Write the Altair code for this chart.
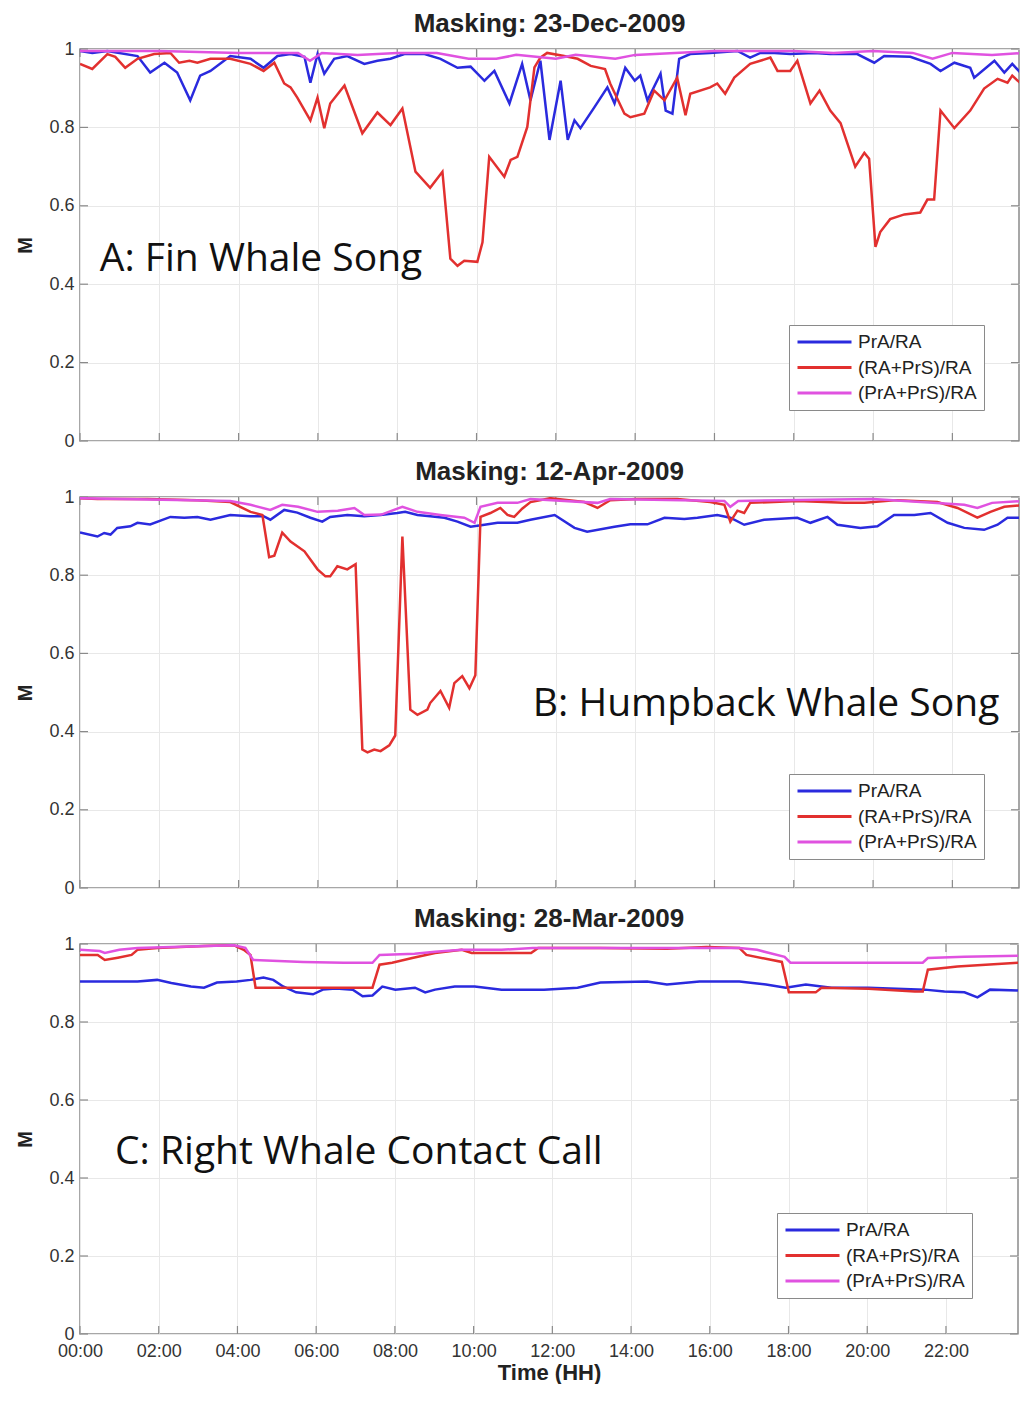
import altair as alt
import pandas as pd

SERIES = ["PrA/RA", "(RA+PrS)/RA", "(PrA+PrS)/RA"]
COLORS = ["#2a2ade", "#e2302f", "#e052e0"]
XTICKS = [0, 2, 4, 6, 8, 10, 12, 14, 16, 18, 20, 22]
YTICKS = [0, 0.2, 0.4, 0.6, 0.8, 1]

TITLES = ["Masking: 23-Dec-2009", "Masking: 12-Apr-2009", "Masking: 28-Mar-2009"]
LABELS = ["A: Fin Whale Song", "B: Humpback Whale Song", "C: Right Whale Contact Call"]
LABEL_HOUR = [0.50, 11.42, 0.89]
LABEL_M = [0.434, 0.44, 0.435]

# ---------------- Panel A: Fin whale song ----------------
A_blue_t = [0, 0.31, 0.69, 1.45, 1.77, 2.13, 2.45, 2.78, 3.03, 3.29, 3.79, 4.30, 4.63, 4.98, 5.31,
            5.66, 5.81, 5.99, 6.16, 6.41, 6.74, 7.17, 7.50, 7.83, 8.18, 8.69, 9.09, 9.52, 9.85, 10.20,
            10.45, 10.83, 11.15, 11.36, 11.61, 11.84, 12.12, 12.30, 12.47, 12.62, 12.97, 13.30, 13.48,
            13.75, 13.99, 14.13, 14.31, 14.64, 14.77, 14.94, 15.11, 15.39, 15.89, 16.58, 16.90, 17.16,
            17.51, 17.91, 18.51, 18.92, 19.60, 20.03, 20.28, 20.94, 21.45, 21.70, 22.05, 22.45, 22.55,
            23.06, 23.31, 23.51, 23.83]
A_blue_v = [0.995, 0.99, 0.995, 0.982, 0.94, 0.965, 0.94, 0.869, 0.932, 0.944, 0.982, 0.975, 0.952,
            0.982, 0.987, 0.98, 0.914, 0.987, 0.937, 0.975, 0.982, 0.962, 0.97, 0.975, 0.987, 0.987,
            0.975, 0.952, 0.955, 0.919, 0.944, 0.861, 0.962, 0.869, 0.97, 0.768, 0.919, 0.768, 0.818,
            0.798, 0.851, 0.902, 0.861, 0.952, 0.919, 0.932, 0.869, 0.937, 0.843, 0.835, 0.975, 0.987,
            0.99, 0.995, 0.978, 0.99, 0.99, 0.987, 0.99, 0.987, 0.987, 0.965, 0.982, 0.98, 0.962, 0.944,
            0.965, 0.952, 0.927, 0.97, 0.94, 0.962, 0.927]
A_red_t = [0, 0.31, 0.69, 0.89, 1.14, 1.45, 1.87, 2.28, 2.50, 2.76, 2.96, 3.29, 3.79, 4.30, 4.63,
           4.90, 5.15, 5.31, 5.48, 5.81, 5.99, 6.16, 6.31, 6.67, 7.12, 7.50, 7.83, 8.13, 8.46, 8.83,
           9.14, 9.34, 9.52, 9.69, 10.02, 10.15, 10.32, 10.70, 10.86, 11.03, 11.28, 11.36, 11.46,
           11.61, 11.78, 12.21, 12.55, 12.88, 13.24, 13.37, 13.73, 13.88, 14.23, 14.48, 14.74, 15.06,
           15.27, 15.39, 15.89, 16.07, 16.27, 16.50, 16.90, 17.41, 17.59, 17.91, 18.09, 18.42, 18.65,
           18.92, 19.18, 19.55, 19.78, 19.90, 20.06, 20.18, 20.43, 20.79, 21.19, 21.37, 21.54, 21.70,
           22.05, 22.45, 22.80, 23.14, 23.39, 23.51, 23.83]
A_red_v = [0.962, 0.949, 0.987, 0.98, 0.952, 0.975, 0.987, 0.99, 0.965, 0.97, 0.965, 0.975, 0.975,
           0.962, 0.944, 0.965, 0.912, 0.902, 0.876, 0.818, 0.876, 0.798, 0.861, 0.907, 0.785, 0.838,
           0.806, 0.848, 0.687, 0.646, 0.687, 0.465, 0.447, 0.46, 0.457, 0.507, 0.725, 0.674, 0.717,
           0.725, 0.801, 0.869, 0.953, 0.978, 0.99, 0.982, 0.975, 0.957, 0.949, 0.912, 0.835, 0.826,
           0.835, 0.894, 0.869, 0.927, 0.831, 0.886, 0.902, 0.912, 0.886, 0.927, 0.962, 0.978, 0.944,
           0.944, 0.97, 0.861, 0.894, 0.843, 0.811, 0.70, 0.735, 0.72, 0.495, 0.533, 0.566, 0.578,
           0.583, 0.616, 0.616, 0.843, 0.798, 0.843, 0.899, 0.924, 0.914, 0.932, 0.902]
A_mag_t = [0, 2, 4, 5.5, 5.8, 6.1, 7, 8, 9, 9.8, 10.5, 11, 11.5, 12, 12.5, 13, 13.5, 14, 15, 16,
           17, 18, 19, 20, 21, 21.5, 22, 23, 23.83]
A_mag_v = [0.995, 0.995, 0.99, 0.99, 0.97, 0.99, 0.985, 0.99, 0.99, 0.975, 0.975, 0.985, 0.98,
           0.975, 0.985, 0.98, 0.975, 0.985, 0.99, 0.995, 0.995, 0.995, 0.99, 0.995, 0.99, 0.975,
           0.99, 0.985, 0.99]

# ---------------- Panel B: Humpback whale song ----------------
B_blue_t = [0, 0.44, 0.61, 0.77, 0.94, 1.27, 1.45, 1.77, 2.28, 2.63, 2.96, 3.29, 3.79, 4.30, 4.63,
            4.80, 5.15, 5.48, 5.81, 6.11, 6.31, 6.74, 7.17, 7.58, 8.00, 8.20, 8.51, 8.83, 9.19, 9.52,
            9.85, 10.20, 10.53, 11.03, 11.36, 11.97, 12.47, 12.79, 13.48, 13.88, 14.31, 14.74, 15.24,
            15.57, 16.07, 16.40, 16.75, 17.25, 18.09, 18.42, 18.85, 19.10, 19.68, 20.11, 20.53, 21.04,
            21.45, 21.88, 22.30, 22.80, 23.14, 23.39, 23.83]
B_blue_v = [0.909, 0.899, 0.908, 0.904, 0.921, 0.925, 0.934, 0.93, 0.949, 0.947, 0.949, 0.942, 0.954,
            0.951, 0.951, 0.942, 0.967, 0.96, 0.947, 0.937, 0.949, 0.954, 0.951, 0.954, 0.959, 0.962,
            0.954, 0.951, 0.947, 0.937, 0.924, 0.929, 0.934, 0.934, 0.942, 0.954, 0.921, 0.911, 0.924,
            0.93, 0.93, 0.947, 0.944, 0.947, 0.954, 0.947, 0.929, 0.942, 0.947, 0.934, 0.949, 0.929,
            0.921, 0.925, 0.954, 0.954, 0.959, 0.934, 0.921, 0.916, 0.929, 0.947, 0.947]
B_red_t = [0, 0.44, 1.70, 2.96, 3.79, 4.30, 4.60, 4.77, 4.90, 5.10, 5.31, 5.66, 5.99, 6.19, 6.31,
           6.49, 6.74, 6.95, 7.12, 7.25, 7.42, 7.58, 7.80, 7.95, 8.13, 8.33, 8.51, 8.76, 8.83, 9.09,
           9.31, 9.44, 9.64, 9.82, 9.97, 10.10, 10.35, 10.60, 10.78, 10.95, 11.15, 11.36, 11.86,
           12.72, 13.05, 13.37, 14.05, 15.06, 15.89, 16.25, 16.40, 16.58, 16.75, 16.90, 18.09, 19.28,
           19.78, 20.61, 21.62, 22.13, 22.63, 22.96, 23.31, 23.83]
B_red_v = [0.997, 0.995, 0.995, 0.992, 0.987, 0.962, 0.954, 0.846, 0.85, 0.909, 0.886, 0.861, 0.815,
           0.797, 0.797, 0.823, 0.815, 0.828, 0.354, 0.347, 0.354, 0.35, 0.365, 0.39, 0.899, 0.456,
           0.443, 0.456, 0.473, 0.504, 0.461, 0.524, 0.542, 0.511, 0.544, 0.949, 0.959, 0.972, 0.954,
           0.949, 0.97, 0.987, 0.997, 0.987, 0.972, 0.992, 0.995, 0.995, 0.987, 0.98, 0.937, 0.965,
           0.959, 0.985, 0.99, 0.985, 0.985, 0.992, 0.987, 0.972, 0.947, 0.962, 0.975, 0.98]
B_mag_t = [0, 3.79, 4.30, 4.80, 5.10, 5.50, 5.99, 6.50, 6.92, 7.17, 7.60, 8.13, 8.51, 9.09, 9.69,
           9.95, 10.10, 10.53, 11.03, 11.36, 13.05, 13.37, 16.25, 16.40, 16.60, 20.00, 22.30, 22.63,
           23.00, 23.83]
B_mag_v = [0.997, 0.99, 0.98, 0.967, 0.98, 0.975, 0.962, 0.965, 0.972, 0.954, 0.955, 0.975, 0.962,
           0.954, 0.947, 0.934, 0.975, 0.985, 0.985, 0.995, 0.985, 0.995, 0.99, 0.975, 0.99, 0.995,
           0.98, 0.972, 0.985, 0.99]

# ---------------- Panel C: Right whale contact call ----------------
C_blue_t = [0, 0.63, 1.46, 1.96, 2.32, 2.82, 3.15, 3.48, 3.98, 4.33, 4.66, 4.91, 5.16, 5.49, 5.92,
            6.17, 6.50, 6.93, 7.18, 7.43, 7.68, 8.01, 8.51, 8.77, 9.02, 9.52, 10.03, 10.71, 11.79,
            12.64, 13.22, 14.41, 14.91, 15.74, 16.75, 17.43, 17.93, 18.44, 19.09, 20.03, 21.46, 21.96,
            22.47, 22.80, 23.12, 23.83]
C_blue_v = [0.904, 0.904, 0.904, 0.908, 0.9, 0.891, 0.888, 0.901, 0.904, 0.908, 0.914, 0.908, 0.891,
            0.876, 0.871, 0.883, 0.886, 0.883, 0.866, 0.868, 0.891, 0.883, 0.888, 0.876, 0.883, 0.891,
            0.891, 0.883, 0.883, 0.888, 0.901, 0.904, 0.896, 0.904, 0.904, 0.896, 0.888, 0.896, 0.888,
            0.888, 0.883, 0.878, 0.876, 0.863, 0.883, 0.881]
C_red_t = [0, 0.45, 0.63, 0.96, 1.31, 1.46, 1.96, 3.15, 3.90, 4.16, 4.33, 4.46, 5.67, 6.68, 7.43,
           7.61, 7.93, 8.44, 9.02, 9.70, 9.95, 10.71, 11.46, 11.64, 13.22, 14.91, 15.92, 16.75, 16.93,
           17.83, 18.01, 18.69, 18.84, 20.03, 21.21, 21.41, 21.54, 22.29, 23.83]
C_red_v = [0.972, 0.972, 0.959, 0.965, 0.972, 0.985, 0.99, 0.995, 0.997, 0.985, 0.972, 0.888, 0.888,
           0.888, 0.888, 0.947, 0.952, 0.964, 0.977, 0.985, 0.977, 0.977, 0.977, 0.99, 0.99, 0.988,
           0.992, 0.99, 0.972, 0.954, 0.876, 0.876, 0.888, 0.885, 0.878, 0.878, 0.934, 0.942, 0.952]
C_mag_t = [0, 0.5, 0.63, 1.0, 1.46, 3.90, 4.20, 4.40, 5.67, 6.70, 7.43, 7.61, 8.50, 9.02, 9.70,
           10.71, 11.50, 13.22, 16.75, 17.20, 17.90, 18.05, 20.00, 21.41, 21.54, 22.47, 23.83]
C_mag_v = [0.985, 0.982, 0.977, 0.985, 0.99, 0.997, 0.99, 0.959, 0.954, 0.952, 0.952, 0.972, 0.975,
           0.98, 0.985, 0.985, 0.99, 0.99, 0.99, 0.985, 0.967, 0.952, 0.952, 0.952, 0.964, 0.967, 0.97]

PANELS = [
    [(A_blue_t, A_blue_v), (A_red_t, A_red_v), (A_mag_t, A_mag_v)],
    [(B_blue_t, B_blue_v), (B_red_t, B_red_v), (B_mag_t, B_mag_v)],
    [(C_blue_t, C_blue_v), (C_red_t, C_red_v), (C_mag_t, C_mag_v)],
]

# visible x range of each panel (hours) and layout in pixels
XMAX = [23.68, 23.68, 23.83]
SIZES = [(939, 392), (939, 391), (938, 390)]
LEGEND_POS = [(709, 276), (709, 277), (697, 269)]
TITLE_DY = [-24.6, -24.6, -24.6]

FONT = "Liberation Sans"


def make_panel(i):
    w, h = SIZES[i]
    rows = []
    for s, (t, v) in zip(SERIES, PANELS[i]):
        assert len(t) == len(v), (i, s, len(t), len(v))
        rows += [{"hour": a, "M": b, "series": s} for a, b in zip(t, v)]
    df = pd.DataFrame(rows)
    show_x = i == 2
    xaxis = alt.Axis(values=XTICKS, labels=show_x, labelFlush=False, grid=True,
                     labelExpr="(datum.value < 10 ? '0' : '') + datum.value + ':00'",
                     labelPadding=8, titlePadding=2, titleFontSize=22)
    x = alt.X("hour:Q", scale=alt.Scale(domain=[0, XMAX[i]], nice=False, zero=False), axis=xaxis,
              title="Time (HH)" if show_x else None)
    yaxis = alt.Axis(values=YTICKS, format="~g", grid=True, labelPadding=6, titlePadding=13,
                     titleFontSize=20)
    y = alt.Y("M:Q", scale=alt.Scale(domain=[0, 1], nice=False), axis=yaxis, title="M")
    lx, ly = LEGEND_POS[i]
    legend = alt.Legend(orient="none", legendX=lx, legendY=ly, title=None, symbolType="stroke",
                        symbolSize=2916, symbolStrokeWidth=3, labelFontSize=19, labelFont=FONT,
                        labelColor="#222", padding=7, rowPadding=5.5, clipHeight=20, labelOffset=5,
                        strokeColor="#8a8a8a", fillColor="white", direction="vertical")
    color = alt.Color("series:N", scale=alt.Scale(domain=SERIES, range=COLORS), legend=legend)

    layers = []
    base = alt.Chart(df)
    for s in SERIES:
        layers.append(base.transform_filter(alt.datum.series == s)
                      .mark_line(strokeWidth=2.5, clip=True)
                      .encode(x=x, y=y, color=color))

    xt = alt.Chart(pd.DataFrame({"hour": XTICKS})).mark_rule(color="#8a8a8a", strokeWidth=1.2)
    yt = alt.Chart(pd.DataFrame({"M": YTICKS})).mark_rule(color="#8a8a8a", strokeWidth=1.2)
    ticks = [
        xt.encode(x=alt.X("hour:Q"), y=alt.value(h), y2=alt.value(h - 8)),
        xt.encode(x=alt.X("hour:Q"), y=alt.value(0), y2=alt.value(8)),
        yt.encode(y=alt.Y("M:Q"), x=alt.value(0), x2=alt.value(8)),
        yt.encode(y=alt.Y("M:Q"), x=alt.value(w - 8), x2=alt.value(w)),
    ]

    ann = alt.Chart(pd.DataFrame({"hour": [LABEL_HOUR[i]], "M": [LABEL_M[i]], "text": [LABELS[i]]})
                    ).mark_text(font="Open Sans", fontSize=39, align="left", baseline="alphabetic",
                                color="#111").encode(x="hour:Q", y="M:Q", text="text:N")

    title = alt.Chart(pd.DataFrame({"t": [TITLES[i]]})).mark_text(
        font=FONT, fontSize=26, fontWeight="bold", color="#222", align="center",
        baseline="middle").encode(x=alt.value(w / 2), y=alt.value(TITLE_DY[i]), text="t:N")

    # fixed left margin so that every panel's plot area starts at the same place
    spacer = alt.Chart(pd.DataFrame({"k": [0]})).mark_rule(color="white", strokeWidth=1).encode(
        x=alt.value(-72), x2=alt.value(-71), y=alt.value(h / 2))

    return alt.layer(*ticks, *layers, ann, title, spacer).properties(width=w, height=h)


chart = alt.vconcat(make_panel(0), make_panel(1), make_panel(2), spacing=7).resolve_scale(
    color="independent").properties(
    padding={"left": -2, "top": 2, "right": 0, "bottom": 0}
).configure_view(stroke="#8a8a8a", strokeWidth=1.5).configure_axis(
    domain=False, ticks=False, gridColor="#e8e8e8", gridWidth=1,
    labelFont=FONT, labelFontSize=18, labelColor="#333",
    titleFont=FONT, titleFontWeight="bold", titleColor="#222"
)

chart.save("out.html", embed_options={"renderer": "svg", "actions": False})
